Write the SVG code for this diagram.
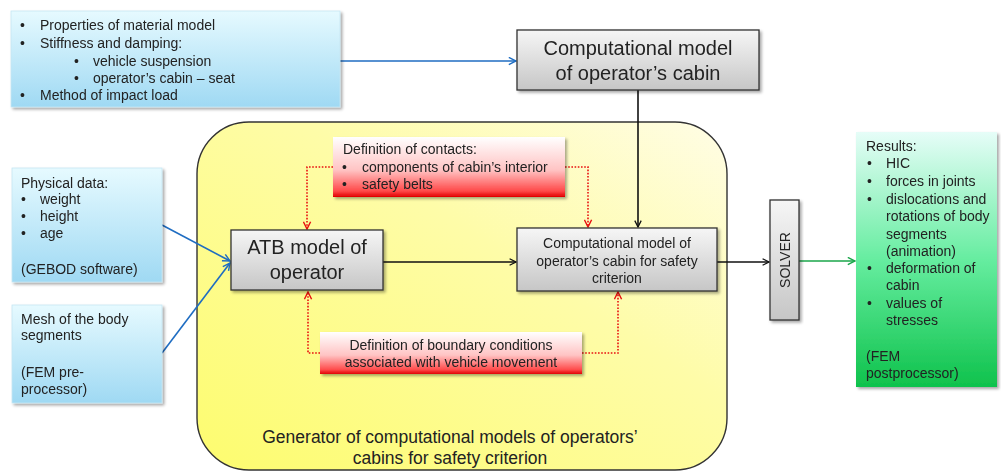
<svg xmlns="http://www.w3.org/2000/svg" width="1001" height="473" viewBox="0 0 1001 473">
<defs>
<linearGradient id="gBlue" x1="0" y1="0" x2="0" y2="1"><stop offset="0" stop-color="#e6faff"/><stop offset="1" stop-color="#9fd9f3"/></linearGradient>
<linearGradient id="gGray" x1="0" y1="0" x2="0" y2="1"><stop offset="0" stop-color="#f6f6f6"/><stop offset="1" stop-color="#c6c6c6"/></linearGradient>
<linearGradient id="gRed" x1="0" y1="0" x2="0" y2="1"><stop offset="0" stop-color="#ffffff"/><stop offset="0.55" stop-color="#ffc4c4"/><stop offset="0.9" stop-color="#ff4a4a"/><stop offset="1" stop-color="#e00000"/></linearGradient>
<linearGradient id="gGreen" x1="0" y1="0" x2="0" y2="1"><stop offset="0" stop-color="#e6fdf8"/><stop offset="0.5" stop-color="#66eda0"/><stop offset="1" stop-color="#0fc24c"/></linearGradient>
<linearGradient id="gYellow" x1="0" y1="1" x2="1" y2="0"><stop offset="0" stop-color="#fdfc6e"/><stop offset="0.6" stop-color="#fefca8"/><stop offset="1" stop-color="#fffde6"/></linearGradient>
<filter id="sh" x="-10%" y="-10%" width="125%" height="130%"><feGaussianBlur in="SourceAlpha" stdDeviation="1.5"/><feOffset dx="1.5" dy="2" result="b"/><feComponentTransfer><feFuncA type="linear" slope="0.35"/></feComponentTransfer><feMerge><feMergeNode/><feMergeNode in="SourceGraphic"/></feMerge></filter>
<marker id="aBlk" viewBox="0 0 10 10" refX="9" refY="5" markerWidth="8" markerHeight="8" markerUnits="userSpaceOnUse" orient="auto"><path d="M1,1 L9,5 L1,9" fill="none" stroke="#111" stroke-width="1.6"/></marker>
<marker id="aBlu" viewBox="0 0 10 10" refX="9" refY="5" markerWidth="9" markerHeight="9" markerUnits="userSpaceOnUse" orient="auto"><path d="M1,1 L9,5 L1,9" fill="none" stroke="#1f6dc2" stroke-width="1.6"/></marker>
<marker id="aGrn" viewBox="0 0 10 10" refX="9" refY="5" markerWidth="9" markerHeight="9" markerUnits="userSpaceOnUse" orient="auto"><path d="M1,1 L9,5 L1,9" fill="none" stroke="#1aa64a" stroke-width="1.6"/></marker>
<marker id="aRed" viewBox="0 0 10 10" refX="9" refY="5" markerWidth="9" markerHeight="9" markerUnits="userSpaceOnUse" orient="auto"><path d="M1,1 L9,5 L1,9" fill="none" stroke="#e81010" stroke-width="1.6"/></marker>
<style>
text{font-family:"Liberation Sans",Arial,sans-serif;fill:#222;}
.t14{font-size:14px;}
.t20{font-size:20px;}
.t17{font-size:17.5px;}
.gray{fill:url(#gGray);stroke:#333;stroke-width:1.3;}
.blue{fill:url(#gBlue);stroke:#c6e6f2;stroke-width:0.8;}
.red{fill:url(#gRed);stroke:none;}
.blk{fill:none;stroke:#111;stroke-width:1.6;}
.blu{fill:none;stroke:#1f6dc2;stroke-width:1.6;}
.grn{fill:none;stroke:#1aa64a;stroke-width:1.6;}
.dot{fill:none;stroke:#e81010;stroke-width:1.6;stroke-dasharray:1.6 1.6;}
</style>
</defs>

<g id="generator">
<rect x="197" y="122" width="530" height="348" rx="52" ry="52" fill="url(#gYellow)" stroke="#333" stroke-width="1.4"/>
<text class="t17" x="450" y="443" text-anchor="middle">Generator of computational models of operators’</text>
<text class="t17" x="450" y="464" text-anchor="middle">cabins for safety criterion</text>
</g>

<g id="connectors">
<path class="blu" d="M340,61 H516" marker-end="url(#aBlu)"/>
<path class="blk" d="M638,90 V227" marker-end="url(#aBlk)"/>
<path class="blu" d="M162,225 L230,261" marker-end="url(#aBlu)"/>
<path class="blu" d="M162,353 L230,263" marker-end="url(#aBlu)"/>
<path class="blk" d="M383,262 H516" marker-end="url(#aBlk)"/>
<path class="blk" d="M717,262 H769" marker-end="url(#aBlk)"/>
<path class="grn" d="M799,261 H855" marker-end="url(#aGrn)"/>
<path class="dot" d="M333,167 H307 V229" marker-end="url(#aRed)"/>
<path class="dot" d="M565,167 H588 V227" marker-end="url(#aRed)"/>
<path class="dot" d="M320,353 H308 V292" marker-end="url(#aRed)"/>
<path class="dot" d="M582,353 H618 V292" marker-end="url(#aRed)"/>
</g>

<g id="inputs-top" filter="url(#sh)">
<rect class="blue" x="11" y="11" width="329" height="96"/>
<text class="t14" x="20" y="30">•</text><text class="t14" x="40" y="30">Properties of material model</text>
<text class="t14" x="20" y="48">•</text><text class="t14" x="40" y="48">Stiffness and damping:</text>
<text class="t14" x="74" y="66">•</text><text class="t14" x="93" y="66">vehicle suspension</text>
<text class="t14" x="74" y="83">•</text><text class="t14" x="93" y="83">operator’s cabin – seat</text>
<text class="t14" x="20" y="100">•</text><text class="t14" x="40" y="100">Method of impact load</text>
</g>

<g id="comp-model" filter="url(#sh)">
<rect class="gray" x="517" y="30" width="242" height="60"/>
<text class="t20" x="638" y="55" text-anchor="middle">Computational model</text>
<text class="t20" x="638" y="80" text-anchor="middle">of operator’s cabin</text>
</g>

<g id="physical" filter="url(#sh)">
<rect class="blue" x="12" y="168" width="150" height="114"/>
<text class="t14" x="21" y="188">Physical data:</text>
<text class="t14" x="21" y="204">•</text><text class="t14" x="40" y="204">weight</text>
<text class="t14" x="21" y="221">•</text><text class="t14" x="40" y="221">height</text>
<text class="t14" x="21" y="238">•</text><text class="t14" x="40" y="238">age</text>
<text class="t14" x="21" y="274">(GEBOD software)</text>
</g>

<g id="mesh" filter="url(#sh)">
<rect class="blue" x="12" y="305" width="150" height="98"/>
<text class="t14" x="21" y="324">Mesh of the body</text>
<text class="t14" x="21" y="340">segments</text>
<text class="t14" x="21" y="377">(FEM pre-</text>
<text class="t14" x="21" y="394">processor)</text>
</g>

<g id="contacts" filter="url(#sh)">
<rect class="red" x="333" y="137" width="232" height="60"/>
<text class="t14" x="343" y="154">Definition of contacts:</text>
<text class="t14" x="342" y="172">•</text><text class="t14" x="362" y="172">components of cabin’s interior</text>
<text class="t14" x="342" y="189">•</text><text class="t14" x="362" y="189">safety belts</text>
</g>

<g id="atb" filter="url(#sh)">
<rect class="gray" x="231" y="230" width="152" height="60"/>
<text class="t20" x="307" y="254" text-anchor="middle">ATB model of</text>
<text class="t20" x="307" y="279" text-anchor="middle">operator</text>
</g>

<g id="comp-safety" filter="url(#sh)">
<rect class="gray" x="517" y="228" width="200" height="63"/>
<text class="t14" x="617" y="248" text-anchor="middle">Computational model of</text>
<text class="t14" x="617" y="266" text-anchor="middle">operator’s cabin for safety</text>
<text class="t14" x="617" y="283" text-anchor="middle">criterion</text>
</g>

<g id="boundary" filter="url(#sh)">
<rect class="red" x="320" y="332" width="262" height="42"/>
<text class="t14" x="451" y="350" text-anchor="middle">Definition of boundary conditions</text>
<text class="t14" x="451" y="367" text-anchor="middle">associated with vehicle movement</text>
</g>

<g id="solver" filter="url(#sh)">
<rect class="gray" x="770" y="200" width="29" height="120"/>
<text class="t14" transform="translate(789.5,260) rotate(-90)" text-anchor="middle">SOLVER</text>
</g>

<g id="results" filter="url(#sh)">
<rect x="856" y="132" width="141" height="255" fill="url(#gGreen)"/>
<text class="t14" x="866" y="151">Results:</text>
<text class="t14" x="867" y="168">•</text><text class="t14" x="886" y="168">HIC</text>
<text class="t14" x="867" y="186">•</text><text class="t14" x="886" y="186">forces in joints</text>
<text class="t14" x="867" y="204">•</text><text class="t14" x="886" y="204">dislocations and</text>
<text class="t14" x="886" y="221">rotations of body</text>
<text class="t14" x="886" y="239">segments</text>
<text class="t14" x="886" y="256">(animation)</text>
<text class="t14" x="867" y="273">•</text><text class="t14" x="886" y="273">deformation of</text>
<text class="t14" x="886" y="290">cabin</text>
<text class="t14" x="867" y="308">•</text><text class="t14" x="886" y="308">values of</text>
<text class="t14" x="886" y="325">stresses</text>
<text class="t14" x="866" y="361">(FEM</text>
<text class="t14" x="866" y="378">postprocessor)</text>
</g>
</svg>
